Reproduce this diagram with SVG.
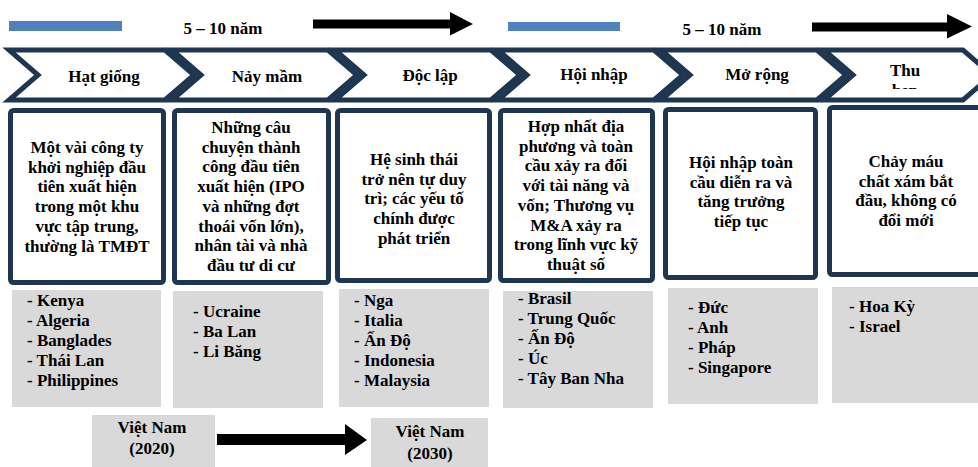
<svg xmlns="http://www.w3.org/2000/svg" width="978" height="467" viewBox="0 0 978 467">
<style>
.t{font-family:"Liberation Serif","Times New Roman",serif;font-weight:bold;font-size:17px;fill:#000;}
.c{text-anchor:middle;}
.chev{fill:#fff;stroke:#1F3651;stroke-width:5;stroke-linejoin:miter;}
.box{fill:#fff;stroke:#1F3651;stroke-width:5;}
.gray{fill:#D9D9D9;}
.blue{fill:#4F81BD;}
.arr{fill:#000;}
</style>
<defs>
<clipPath id="clipThu"><rect x="824" y="50" width="160" height="39"/></clipPath>
</defs>
<rect width="978" height="467" fill="#fff"/>

<g id="timeline">
<rect class="blue" x="9" y="21" width="113" height="10"/>
<text class="t c" x="223" y="34">5 – 10 năm</text>
<rect class="blue" x="508" y="22" width="112" height="9"/>
<text class="t c" x="722" y="35">5 – 10 năm</text>
</g>

<g id="connectors">
<polygon class="arr" points="313,19.5 450,19.5 450,12 473,24 450,35.5 450,28.5 313,28.5"/>
<polygon class="arr" points="812,22.5 947,22.5 947,14 972,26.5 947,38.5 947,31.5 812,31.5"/>
<polygon class="arr" points="217,434 345,434 345,424 367,440 345,455 345,445 217,445"/>
</g>

<g id="stage-hat-giong">
<polygon class="chev" points="9,50 165,50 194,75 165,100 9,100 38,75"/>
<text class="t c" x="104" y="82">Hạt giống</text>
</g>
<g id="stage-nay-mam">
<polygon class="chev" points="172,50 328,50 357,75 328,100 172,100 201,75"/>
<text class="t c" x="267" y="82">Nảy mầm</text>
</g>
<g id="stage-doc-lap">
<polygon class="chev" points="335,50 491,50 520,75 491,100 335,100 364,75"/>
<text class="t c" x="430" y="81">Độc lập</text>
</g>
<g id="stage-hoi-nhap">
<polygon class="chev" points="498,50 654,50 683,75 654,100 498,100 527,75"/>
<text class="t c" x="594" y="80">Hội nhập</text>
</g>
<g id="stage-mo-rong">
<polygon class="chev" points="661,50 817,50 846,75 817,100 661,100 690,75"/>
<text class="t c" x="757" y="80">Mở rộng</text>
</g>
<g id="stage-thu-hep">
<polygon class="chev" points="824,50 963,50 992,75 963,100 824,100 853,75"/>
<text class="t c" x="905" y="76">Thu</text>
<text class="t c" x="905" y="96" clip-path="url(#clipThu)">hẹp</text>
</g>

<g id="desc-1">
<rect class="box" x="10.5" y="110.5" width="153" height="172" rx="3"/>
<text class="t c" x="87" y="153">Một vài công ty</text>
<text class="t c" x="87" y="172.7">khởi nghiệp đầu</text>
<text class="t c" x="87" y="192.4">tiên xuất hiện</text>
<text class="t c" x="87" y="212.1">trong một khu</text>
<text class="t c" x="87" y="231.8">vực tập trung,</text>
<text class="t c" x="87" y="251.5">thường là TMĐT</text>
</g>
<g id="desc-2">
<rect class="box" x="174.5" y="110.5" width="154" height="172" rx="3"/>
<text class="t c" x="251" y="133">Những câu</text>
<text class="t c" x="251" y="152.7">chuyện thành</text>
<text class="t c" x="251" y="172.4">công đầu tiên</text>
<text class="t c" x="251" y="192.1">xuất hiện (IPO</text>
<text class="t c" x="251" y="211.8">và những đợt</text>
<text class="t c" x="251" y="231.5">thoái vốn lớn),</text>
<text class="t c" x="251" y="251.2">nhân tài và nhà</text>
<text class="t c" x="251" y="270.9">đầu tư di cư</text>
</g>
<g id="desc-3">
<rect class="box" x="337.5" y="110.5" width="152" height="170" rx="3"/>
<text class="t c" x="414" y="165">Hệ sinh thái</text>
<text class="t c" x="414" y="184.7">trở nên tự duy</text>
<text class="t c" x="414" y="204.4">trì; các yếu tố</text>
<text class="t c" x="414" y="224.1">chính được</text>
<text class="t c" x="414" y="243.8">phát triển</text>
</g>
<g id="desc-4">
<rect class="box" x="500.5" y="110.5" width="152" height="170" rx="3"/>
<text class="t c" x="576" y="132">Hợp nhất địa</text>
<text class="t c" x="576" y="151.7">phương và toàn</text>
<text class="t c" x="576" y="171.4">cầu xảy ra đối</text>
<text class="t c" x="576" y="191.1">với tài năng và</text>
<text class="t c" x="576" y="210.8">vốn; Thương vụ</text>
<text class="t c" x="576" y="230.5">M&amp;A xảy ra</text>
<text class="t c" x="576" y="250.2">trong lĩnh vực kỹ</text>
<text class="t c" x="576" y="269.9">thuật số</text>
</g>
<g id="desc-5">
<rect class="box" x="665.5" y="109.5" width="150" height="168" rx="3"/>
<text class="t c" x="741" y="168">Hội nhập toàn</text>
<text class="t c" x="741" y="187.7">cầu diễn ra và</text>
<text class="t c" x="741" y="207.4">tăng trưởng</text>
<text class="t c" x="741" y="227.1">tiếp tục</text>
</g>
<g id="desc-6">
<rect class="box" x="829.5" y="107.5" width="152" height="167" rx="3"/>
<text class="t c" x="906" y="167">Chảy máu</text>
<text class="t c" x="906" y="186.7">chất xám bắt</text>
<text class="t c" x="906" y="206.4">đầu, không có</text>
<text class="t c" x="906" y="226.1">đổi mới</text>
</g>

<g id="list-1">
<rect class="gray" x="12" y="290" width="149" height="117"/>
<text class="t" x="27" y="305.5">- Kenya</text>
<text class="t" x="27" y="325.5">- Algeria</text>
<text class="t" x="27" y="345.5">- Banglades</text>
<text class="t" x="27" y="365.5">- Thái Lan</text>
<text class="t" x="27" y="385.5">- Philippines</text>
</g>
<g id="list-2">
<rect class="gray" x="173" y="291" width="150" height="117"/>
<text class="t" x="193" y="317">- Ucraine</text>
<text class="t" x="193" y="337">- Ba Lan</text>
<text class="t" x="193" y="357">- Li Băng</text>
</g>
<g id="list-3">
<rect class="gray" x="339" y="289" width="150" height="118"/>
<text class="t" x="354" y="306">- Nga</text>
<text class="t" x="354" y="326">- Italia</text>
<text class="t" x="354" y="346">- Ấn Độ</text>
<text class="t" x="354" y="366">- Indonesia</text>
<text class="t" x="354" y="386">- Malaysia</text>
</g>
<g id="list-4">
<rect class="gray" x="503" y="291" width="150" height="117"/>
<text class="t" x="518" y="304">- Brasil</text>
<text class="t" x="518" y="324">- Trung Quốc</text>
<text class="t" x="518" y="344">- Ấn Độ</text>
<text class="t" x="518" y="364">- Úc</text>
<text class="t" x="518" y="384">- Tây Ban Nha</text>
</g>
<g id="list-5">
<rect class="gray" x="668" y="288" width="150" height="116"/>
<text class="t" x="688" y="313">- Đức</text>
<text class="t" x="688" y="333">- Anh</text>
<text class="t" x="688" y="353">- Pháp</text>
<text class="t" x="688" y="373">- Singapore</text>
</g>
<g id="list-6">
<rect class="gray" x="832" y="287" width="146" height="116"/>
<text class="t" x="849" y="312">- Hoa Kỳ</text>
<text class="t" x="849" y="332">- Israel</text>
</g>

<g id="vn-2020">
<rect class="gray" x="92" y="415" width="123" height="52"/>
<text class="t c" x="152" y="433">Việt Nam</text>
<text class="t c" x="152" y="454">(2020)</text>
</g>
<g id="vn-2030">
<rect class="gray" x="371" y="418" width="117" height="49"/>
<text class="t c" x="430" y="437">Việt Nam</text>
<text class="t c" x="430" y="459">(2030)</text>
</g>
</svg>
